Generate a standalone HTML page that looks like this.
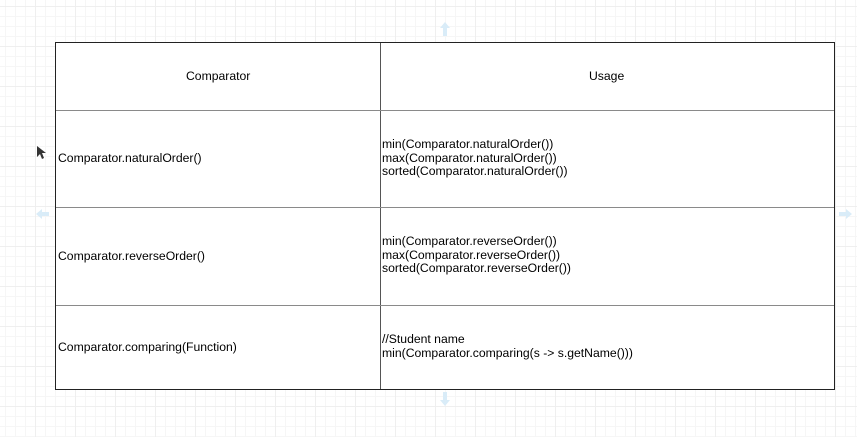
<!DOCTYPE html>
<html><head><meta charset="utf-8"><style>
html,body{margin:0;padding:0}
body{width:857px;height:437px;position:relative;overflow:hidden;background:#fff;
background-image:linear-gradient(#efefef 1px,transparent 1px),linear-gradient(90deg,#efefef 1px,transparent 1px),linear-gradient(#f6f6f6 1px,transparent 1px),linear-gradient(90deg,#f6f6f6 1px,transparent 1px);
background-size:40px 40px,40px 40px,10px 10px,10px 10px;background-position:-5px 6px,-5px 6px,-5px 6px,-5px 6px;
font-family:"Liberation Sans",sans-serif;font-size:12.2px;color:#000}
.t{position:absolute;white-space:pre;line-height:13.5px}
.g{position:absolute;background:#8a8a8a;height:1px;left:56px;width:778px}
svg{position:absolute}
</style></head><body>
<div style="position:absolute;left:55px;top:42px;width:778px;height:346px;border:1px solid #222;background:#fff"></div>
<div style="position:absolute;left:380px;top:43px;width:1px;height:346px;background:#555"></div>
<div class="g" style="top:110px"></div>
<div class="g" style="top:207px"></div>
<div class="g" style="top:305px"></div>
<div class="t" style="left:186px;top:70px">Comparator</div>
<div class="t" style="left:589px;top:70px">Usage</div>
<div class="t" style="left:58px;top:152px">Comparator.naturalOrder()</div>
<div class="t" style="left:382px;top:138px">min(Comparator.naturalOrder())
max(Comparator.naturalOrder())
sorted(Comparator.naturalOrder())</div>
<div class="t" style="left:58px;top:250px">Comparator.reverseOrder()</div>
<div class="t" style="left:382px;top:235px">min(Comparator.reverseOrder())
max(Comparator.reverseOrder())
sorted(Comparator.reverseOrder())</div>
<div class="t" style="left:58px;top:341px">Comparator.comparing(Function)</div>
<div class="t" style="left:382px;top:333px">//Student name
min(Comparator.comparing(s -&gt; s.getName()))</div>
<svg width="857" height="437" style="left:0;top:0">
<g fill="#d9ecf8">
<polygon points="445,22 450,28 447,28 447,36 443,36 443,28 440,28"/>
<polygon points="445,406 450,400 447,400 447,392 443,392 443,400 440,400"/>
<polygon points="36,214 42,209 42,212 49,212 49,216 42,216 42,219"/>
<polygon points="852,214 846,209 846,212 839,212 839,216 846,216 846,219"/>
</g>
<polygon points="37,146 37,157 40,154 42,159 44,158 42,153 46,153" fill="#333"/>
</svg>
</body></html>
